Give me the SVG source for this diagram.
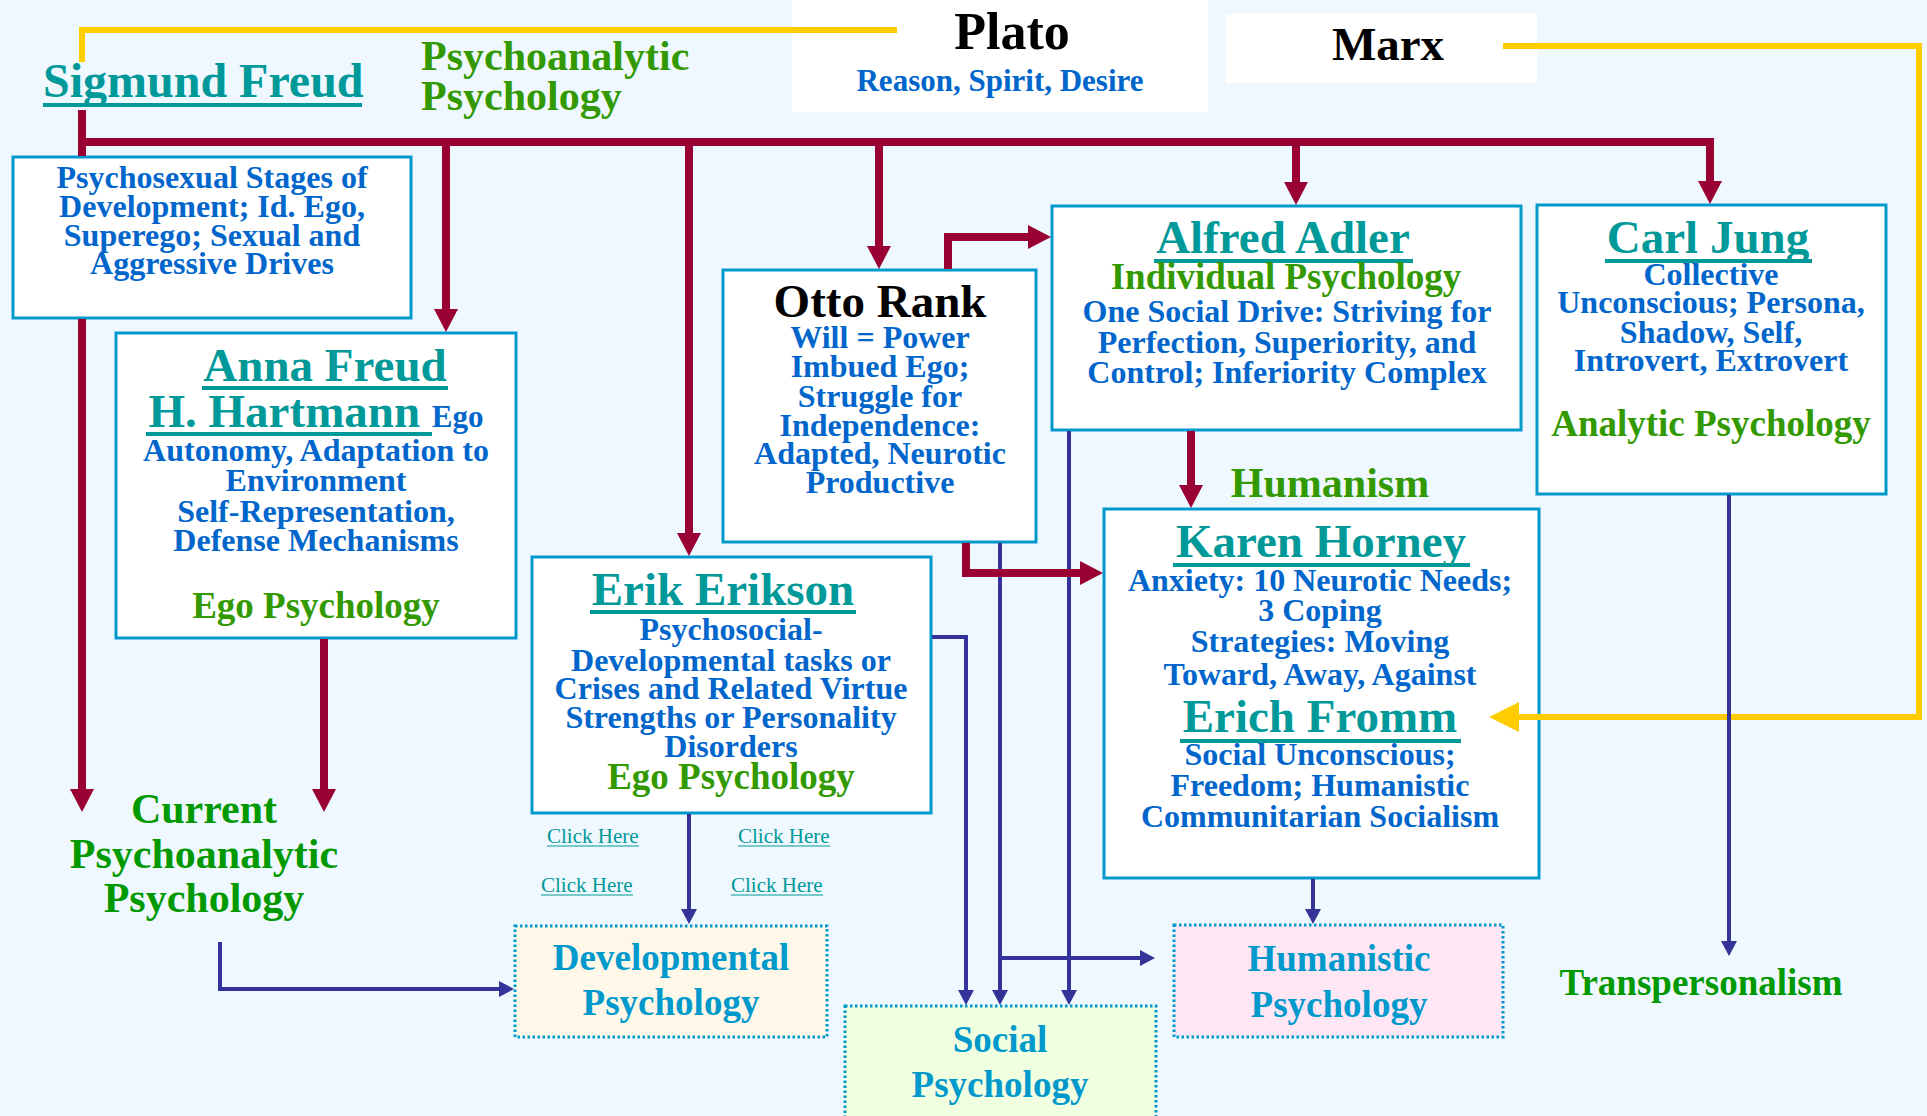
<svg xmlns="http://www.w3.org/2000/svg" width="1927" height="1116" viewBox="0 0 1927 1116">
<defs>
<style>
text{font-family:"Liberation Serif","Times New Roman",serif;font-weight:bold}
.c{text-anchor:middle}
.title{font-size:47px;fill:#009999}
.body{font-size:32px;fill:#0066CC}
.sub{font-size:37px;fill:#339900}
.big{font-size:42px}
.g1{fill:#339900}
.g2{fill:#009900}
.area{font-size:37px;fill:#0099CC}
.link{font-size:21px;font-weight:normal;fill:#009999}
.box{fill:#FFFFFF;stroke:#0099CC;stroke-width:3}
.dbox{stroke:#0099CC;stroke-width:3;stroke-dasharray:2.5 2.5}
.ul{stroke:#009999;stroke-width:4}
.ull{stroke:#009999;stroke-width:1.2}
.red{fill:none;stroke:#990033;stroke-width:8}
.blue{fill:none;stroke:#333399;stroke-width:4}
.yel{fill:none;stroke:#FFCC00;stroke-width:6}
</style>
<marker id="mr" markerUnits="userSpaceOnUse" markerWidth="24" markerHeight="24" refX="1" refY="12" orient="auto"><path d="M0,0 L23,12 L0,24 z" fill="#990033"/></marker>
<marker id="mb" markerUnits="userSpaceOnUse" markerWidth="16" markerHeight="16" refX="1" refY="8" orient="auto"><path d="M0,0 L15,8 L0,16 z" fill="#333399"/></marker>
<marker id="my" markerUnits="userSpaceOnUse" markerWidth="30" markerHeight="30" refX="1" refY="15" orient="auto"><path d="M0,0 L30,15 L0,30 z" fill="#FFCC00"/></marker>
</defs>
<rect x="0" y="0" width="1927" height="1116" fill="#F0F8FF"/>

<g id="plato">
<rect x="792" y="0" width="416" height="112" fill="#FFFFFF"/>
<text class="c" x="1012" y="49" font-size="52" fill="#000000">Plato</text>
<text class="c" x="1000" y="91" font-size="31" fill="#0066CC">Reason, Spirit, Desire</text>
</g>
<g id="marx">
<rect x="1226" y="14" width="311" height="69" fill="#FFFFFF"/>
<text class="c" x="1388" y="60" font-size="47" fill="#000000">Marx</text>
</g>

<g id="freud">
<text x="43" y="97" class="title" style="font-size:48px">Sigmund Freud</text>
<line class="ul" x1="43" y1="105" x2="362" y2="105"/>
<text x="421" y="70" class="big g1">Psychoanalytic</text>
<text x="421" y="110" class="big g1">Psychology</text>
</g>

<g id="freud-box">
<rect class="box" x="13" y="157" width="398" height="161"/>
<text class="c body" x="212" y="188">Psychosexual Stages of</text>
<text class="c body" x="212" y="217">Development; Id. Ego,</text>
<text class="c body" x="212" y="246">Superego; Sexual and</text>
<text class="c body" x="212" y="274">Aggressive Drives</text>
</g>

<g id="anna-freud">
<rect class="box" x="116" y="333" width="400" height="305"/>
<text class="c title" x="325" y="381">Anna Freud</text>
<line class="ul" x1="202" y1="388" x2="448" y2="388"/>
<text class="c" x="316" y="427"><tspan class="title">H. Hartmann </tspan><tspan class="body" style="font-size:31px">Ego</tspan></text>
<line class="ul" x1="146" y1="434" x2="432" y2="434"/>
<text class="c body" x="316" y="461">Autonomy, Adaptation to</text>
<text class="c body" x="316" y="491">Environment</text>
<text class="c body" x="316" y="522">Self-Representation,</text>
<text class="c body" x="316" y="551">Defense Mechanisms</text>
<text class="c sub" x="316" y="618">Ego Psychology</text>
</g>

<g id="otto-rank">
<rect class="box" x="723" y="270" width="313" height="272"/>
<text class="c" x="880" y="317" font-size="47" fill="#000000">Otto Rank</text>
<text class="c body" x="880" y="348">Will = Power</text>
<text class="c body" x="880" y="377">Imbued Ego;</text>
<text class="c body" x="880" y="407">Struggle for</text>
<text class="c body" x="880" y="436">Independence:</text>
<text class="c body" x="880" y="464">Adapted, Neurotic</text>
<text class="c body" x="880" y="493">Productive</text>
</g>

<g id="erik-erikson">
<rect class="box" x="532" y="557" width="399" height="256"/>
<text class="c title" x="723" y="605">Erik Erikson</text>
<line class="ul" x1="590" y1="612" x2="856" y2="612"/>
<text class="c body" x="731" y="640">Psychosocial-</text>
<text class="c body" x="731" y="671">Developmental tasks or</text>
<text class="c body" x="731" y="699">Crises and Related Virtue</text>
<text class="c body" x="731" y="728">Strengths or Personality</text>
<text class="c body" x="731" y="757">Disorders</text>
<text class="c sub" x="731" y="789">Ego Psychology</text>
</g>

<g id="alfred-adler">
<rect class="box" x="1052" y="206" width="469" height="224"/>
<text class="c title" x="1283" y="253">Alfred Adler</text>
<line class="ul" x1="1154" y1="261" x2="1413" y2="261"/>
<text class="c sub" x="1286" y="289">Individual Psychology</text>
<text class="c body" x="1287" y="322">One Social Drive: Striving for</text>
<text class="c body" x="1287" y="353">Perfection, Superiority, and</text>
<text class="c body" x="1287" y="383">Control; Inferiority Complex</text>
</g>

<g id="carl-jung">
<rect class="box" x="1537" y="205" width="349" height="289"/>
<text class="c title" x="1708" y="253">Carl Jung</text>
<line class="ul" x1="1605" y1="261" x2="1812" y2="261"/>
<text class="c body" x="1711" y="285">Collective</text>
<text class="c body" x="1711" y="313">Unconscious; Persona,</text>
<text class="c body" x="1711" y="343">Shadow, Self,</text>
<text class="c body" x="1711" y="371">Introvert, Extrovert</text>
<text class="c sub" x="1711" y="436">Analytic Psychology</text>
</g>

<g id="karen-horney">
<text class="c big g1" x="1330" y="497">Humanism</text>
<rect class="box" x="1104" y="509" width="435" height="369"/>
<text class="c title" x="1321" y="557">Karen Horney</text>
<line class="ul" x1="1173" y1="565" x2="1470" y2="565"/>
<text class="c body" x="1320" y="591">Anxiety: 10 Neurotic Needs;</text>
<text class="c body" x="1320" y="621">3 Coping</text>
<text class="c body" x="1320" y="652">Strategies: Moving</text>
<text class="c body" x="1320" y="685">Toward, Away, Against</text>
<text class="c title" x="1320" y="732">Erich Fromm</text>
<line class="ul" x1="1180" y1="741" x2="1461" y2="741"/>
<text class="c body" x="1320" y="765">Social Unconscious;</text>
<text class="c body" x="1320" y="796">Freedom; Humanistic</text>
<text class="c body" x="1320" y="827">Communitarian Socialism</text>
</g>

<g id="current-psychoanalytic">
<text class="c big g2" x="204" y="823">Current</text>
<text class="c big g2" x="204" y="868">Psychoanalytic</text>
<text class="c big g2" x="204" y="912">Psychology</text>
</g>

<g id="links">
<text class="link" x="547" y="843">Click Here</text>
<line class="ull" x1="547" y1="846" x2="639" y2="846"/>
<text class="link" x="738" y="843">Click Here</text>
<line class="ull" x1="738" y1="846" x2="830" y2="846"/>
<text class="link" x="541" y="892">Click Here</text>
<line class="ull" x1="541" y1="895" x2="633" y2="895"/>
<text class="link" x="731" y="892">Click Here</text>
<line class="ull" x1="731" y1="895" x2="823" y2="895"/>
</g>

<g id="developmental">
<rect class="dbox" x="515" y="926" width="312" height="111" fill="#FFF8E8"/>
<text class="c area" x="671" y="970">Developmental</text>
<text class="c area" x="671" y="1015">Psychology</text>
</g>

<g id="social">
<rect class="dbox" x="845" y="1006" width="311" height="130" fill="#F0FFE0"/>
<text class="c area" x="1000" y="1052">Social</text>
<text class="c area" x="1000" y="1097">Psychology</text>
</g>

<g id="humanistic">
<rect class="dbox" x="1174" y="925" width="329" height="112" fill="#FFE6F5"/>
<text class="c area" x="1339" y="971">Humanistic</text>
<text class="c area" x="1339" y="1017">Psychology</text>
</g>

<g id="transpersonalism">
<text class="c g2" x="1701" y="995" font-size="37">Transpersonalism</text>
</g>

<g id="connectors">
<path class="yel" d="M82,62 V30 H897"/>
<path class="yel" d="M1503,46 H1919 V717 H1518" marker-end="url(#my)"/>
<path class="blue" d="M220,942 V989 H500" marker-end="url(#mb)"/>
<path class="blue" d="M689,814 V910" marker-end="url(#mb)"/>
<path class="blue" d="M932,637 H966 V991" marker-end="url(#mb)"/>
<path class="blue" d="M1000,543 V991" marker-end="url(#mb)"/>
<path class="blue" d="M1000,958 H1141" stroke-width="5" marker-end="url(#mb)"/>
<path class="blue" d="M1069,431 V991" marker-end="url(#mb)"/>
<path class="blue" d="M1313,879 V910" marker-end="url(#mb)"/>
<path class="blue" d="M1729,495 V942" marker-end="url(#mb)"/>
<path class="red" d="M82,110 V156"/>
<path class="red" d="M82,319 V790" marker-end="url(#mr)"/>
<path class="red" d="M82,142 H1710 V182" marker-end="url(#mr)"/>
<path class="red" d="M446,142 V310" marker-end="url(#mr)"/>
<path class="red" d="M689,142 V534" marker-end="url(#mr)"/>
<path class="red" d="M879,142 V247" marker-end="url(#mr)"/>
<path class="red" d="M1296,142 V183" marker-end="url(#mr)"/>
<path class="red" d="M948,269 V237 H1029" marker-end="url(#mr)"/>
<path class="red" d="M966,543 V573 H1081" marker-end="url(#mr)"/>
<path class="red" d="M1191,431 V486" marker-end="url(#mr)"/>
<path class="red" d="M324,639 V790" marker-end="url(#mr)"/>
</g>
</svg>
